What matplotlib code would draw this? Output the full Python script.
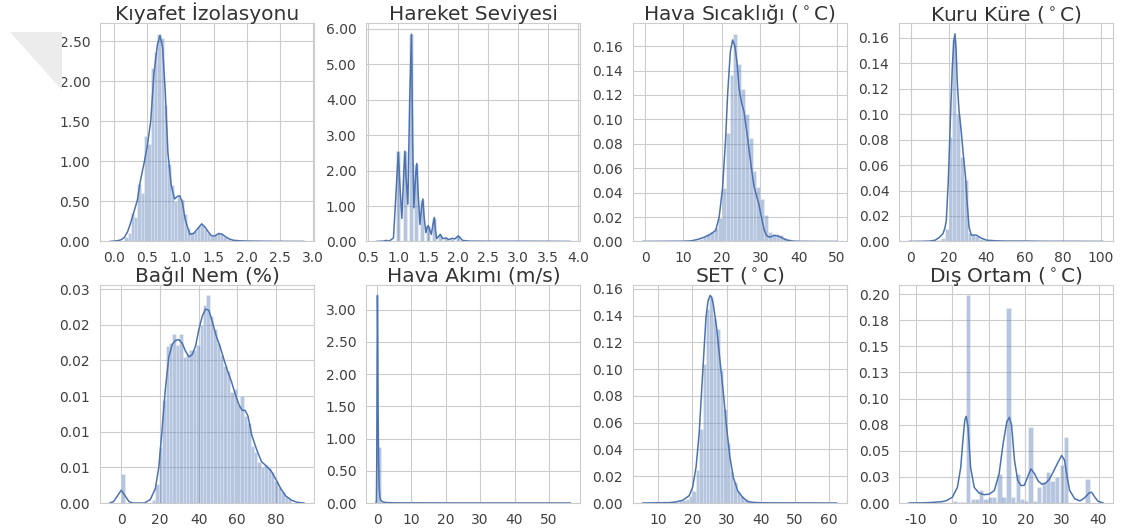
import numpy as np
import matplotlib
matplotlib.use("Agg")
import matplotlib.pyplot as plt
from matplotlib.ticker import MultipleLocator, FormatStrFormatter
from matplotlib.patches import Polygon
import seaborn as sns

sns.set_style("whitegrid")
plt.rcParams['font.family'] = ['DejaVu Sans']
plt.rcParams['axes.unicode_minus'] = False

# --- Kıyafet İzolasyonu (clo) ---
clo_bin_start = 0.15
clo_bin_width = 0.05
clo_heights = [0.06, 0.10, 0.36, 0.30, 0.72, 0.61, 1.32, 1.21, 2.17, 2.36,
               2.59, 2.54, 1.70, 0.97, 0.70, 0.51, 0.55, 0.53, 0.34, 0.17,
               0.12, 0.13, 0.19, 0.21, 0.15, 0.10, 0.07, 0.08, 0.10, 0.09,
               0.06, 0.03, 0.02, 0.01, 0.01, 0.01, 0.005, 0.005, 0.004, 0.004,
               0.003, 0.003, 0.002, 0.002, 0.002, 0.002, 0.002, 0.002, 0.002, 0.002,
               0.002, 0.002, 0.001, 0.001]
clo_kde_x = [-0.07, 0.0, 0.05, 0.1, 0.15, 0.2, 0.25, 0.3, 0.35, 0.39, 0.45, 0.5,
             0.55, 0.6, 0.65, 0.69, 0.73, 0.77, 0.81, 0.86, 0.91, 0.95, 0.99, 1.03,
             1.07, 1.14, 1.2, 1.26, 1.32, 1.37, 1.42, 1.47, 1.52, 1.58, 1.63, 1.68,
             1.74, 1.8, 1.9, 2.0, 2.2, 2.5, 2.87]
clo_kde_y = [0.0, 0.005, 0.01, 0.02, 0.05, 0.12, 0.24, 0.38, 0.52, 0.74, 0.98, 1.2,
             1.5, 2.1, 2.45, 2.57, 2.42, 1.86, 1.11, 0.70, 0.53, 0.56, 0.57, 0.48,
             0.28, 0.09, 0.1, 0.16, 0.22, 0.18, 0.12, 0.07, 0.07, 0.1, 0.09, 0.06,
             0.03, 0.015, 0.008, 0.005, 0.003, 0.001, 0.0]

# --- Hareket Seviyesi (met) ---
met_bar_width = 0.065
met_centers = [0.72, 1.0, 1.11, 1.21, 1.30, 1.40, 1.49, 1.60, 1.70, 1.80,
               1.90, 2.0, 2.1, 2.3, 2.6, 3.0, 3.4, 3.8]
met_heights = [0.01, 2.54, 2.55, 5.86, 2.18, 1.17, 0.43, 0.65, 0.18, 0.09,
               0.08, 0.15, 0.02, 0.01, 0.01, 0.005, 0.005, 0.005]
met_kde_x = [0.63, 0.75, 0.8, 0.85, 0.92, 0.96, 1.0, 1.03, 1.06, 1.09, 1.11, 1.13,
             1.16, 1.19, 1.22, 1.24, 1.26, 1.29, 1.31, 1.33, 1.36, 1.39, 1.41, 1.43,
             1.46, 1.48, 1.5, 1.53, 1.55, 1.58, 1.6, 1.62, 1.64, 1.7, 1.74, 1.8,
             1.84, 1.9, 1.94, 2.0, 2.07, 2.18, 2.5, 3.0, 3.5, 3.87]
met_kde_y = [0.0, 0.01, 0.03, 0.01, 0.1, 1.3, 2.52, 1.5, 0.65, 1.9, 2.55, 1.8,
             1.05, 4.0, 5.85, 2.8, 0.95, 1.9, 2.2, 1.4, 0.48, 1.0, 1.2, 0.7,
             0.25, 0.4, 0.45, 0.3, 0.2, 0.5, 0.68, 0.3, 0.08, 0.2, 0.08, 0.1,
             0.05, 0.09, 0.07, 0.16, 0.03, 0.01, 0.005, 0.005, 0.003, 0.0]

# --- Hava Sıcaklığı ---
ta_bin_start = 0.0
ta_bin_width = 1.0
ta_heights = [0.0002, 0, 0, 0, 0, 0, 0, 0, 0, 0.0002,
              0.0002, 0.0003, 0.0005, 0.001, 0.002, 0.004, 0.006, 0.008, 0.011, 0.019,
              0.044, 0.089, 0.136, 0.170, 0.145, 0.125, 0.104, 0.085, 0.058, 0.045,
              0.035, 0.022, 0.008, 0.006, 0.006, 0.005, 0.003, 0.002, 0.001, 0.0005,
              0.0002, 0.0002, 0.0002, 0.0002, 0.0002, 0.0002, 0.0002, 0.0002, 0.0002, 0.0002]
ta_kde_x = [-0.7, 5, 10, 12, 13.5, 15, 16.5, 17.5, 18.4, 19.3, 20.2, 21.0, 21.5,
            22.2, 22.8, 23.4, 24.0, 24.5, 25.2, 25.8, 26.5, 27.1, 27.8, 28.4, 29.0,
            29.7, 30.3, 31.0, 31.6, 32.3, 33.0, 33.6, 34.5, 35.4, 36.3, 37.1, 38.5,
            40, 45, 50]
ta_kde_y = [0, 0.0001, 0.0002, 0.0005, 0.0015, 0.003, 0.005, 0.007, 0.009, 0.02,
            0.044, 0.085, 0.12, 0.155, 0.165, 0.16, 0.145, 0.125, 0.113, 0.106,
            0.09, 0.075, 0.058, 0.045, 0.038, 0.03, 0.02, 0.01, 0.005, 0.0036,
            0.004, 0.005, 0.0045, 0.0035, 0.002, 0.001, 0.0003, 0.0001, 0.0, 0.0]

# --- Kuru Küre ---
tg_bin_start = 0.0
tg_bin_width = 2.0
tg_heights = [0.0002, 0, 0, 0, 0, 0, 0.0005, 0.001, 0.003, 0.010,
              0.082, 0.158, 0.100, 0.066, 0.048, 0.007, 0.005, 0.004, 0.002, 0.001,
              0.0005, 0.0003, 0.0003, 0.0003, 0.0003, 0.0003, 0.0003, 0.0003, 0.0003, 0.0003,
              0.0001, 0.0001, 0.0001, 0.0001, 0.0001, 0.0001, 0.0001, 0.0001, 0.0001, 0.0001,
              0.0001, 0.0001, 0.0001, 0.0001, 0.0001, 0.0001, 0.0001, 0.0001, 0.0001, 0.0001]
tg_kde_x = [-0.9, 5, 10, 13, 15, 17, 18, 18.8, 19.8, 20.6, 21.3, 22.0, 22.8, 23.4,
            24.0, 24.6, 25.5, 26.7, 27.9, 29.0, 29.7, 30.8, 32.0, 33.5, 34.6, 37.3,
            40, 45, 50, 60, 70, 80, 101.4]
tg_kde_y = [0, 0.0001, 0.0003, 0.001, 0.003, 0.006, 0.01, 0.016, 0.045, 0.079,
            0.11, 0.137, 0.158, 0.163, 0.15, 0.125, 0.103, 0.086, 0.066, 0.05,
            0.032, 0.011, 0.005, 0.005, 0.005, 0.0026, 0.001, 0.0005, 0.0003, 0.0003,
            0.0001, 0.0001, 0.0]

# --- Bağıl Nem ---
rh_bin_start = 0.0
rh_bin_width = 1.76
rh_heights = [0.0040, 0, 0, 0, 0, 0, 0, 0, 0, 0.0004,
              0.0026, 0.0079, 0.0144, 0.0220, 0.0225, 0.0237, 0.0221, 0.0237, 0.0205, 0.0209,
              0.0214, 0.0214, 0.0221, 0.0250, 0.0278, 0.0291, 0.0262, 0.0244, 0.0225, 0.0207,
              0.0192, 0.0185, 0.0155, 0.0160, 0.0137, 0.0150, 0.0122, 0.0112, 0.0080, 0.0072,
              0.0058, 0.0050, 0.0053, 0.0049, 0.0043, 0.0031, 0.0022, 0.0015, 0.0009, 0.0005]
rh_kde_x = [-6, -4, -2, 0, 2, 4, 6, 12, 15, 17.6, 19.4, 21, 22.8, 24.6, 26.3, 28,
            29.8, 31.5, 33.2, 35, 36.7, 38.4, 40.1, 41.9, 43.6, 45.3, 47, 49, 51,
            53, 55, 57, 59, 61, 62.5, 64, 65.5, 67.5, 70, 72.5, 75, 77.5, 80, 82.5,
            85, 88, 91, 94.6]
rh_kde_y = [0, 0.0002, 0.001, 0.0018, 0.001, 0.0002, 0, 0, 0.0005, 0.002, 0.005,
            0.01, 0.016, 0.0205, 0.0222, 0.0228, 0.0229, 0.0224, 0.0213, 0.0205,
            0.0208, 0.022, 0.0243, 0.0262, 0.0272, 0.027, 0.0255, 0.0235, 0.022,
            0.0202, 0.0185, 0.017, 0.0152, 0.0137, 0.013, 0.013, 0.0122, 0.0095,
            0.0075, 0.0058, 0.0052, 0.0045, 0.0033, 0.002, 0.001, 0.0004, 0.0001, 0]

# --- Hava Akımı ---
va_bin_start = 0.0
va_bin_width = 1.125
va_heights = [0.87, 0.006, 0.002, 0.001, 0.0005, 0.0005, 0.0003, 0.0003, 0.0002, 0.0002] + [0.0001] * 40
va_kde_x = [-0.3, -0.2, -0.1, 0.0, 0.1, 0.2, 0.3, 0.45, 0.6, 0.8, 1.0, 1.5, 2.5,
            5, 10, 20, 30, 40, 56.3]
va_kde_y = [0, 0.05, 0.6, 2.2, 3.22, 2.6, 1.4, 0.6, 0.25, 0.1, 0.05, 0.02, 0.008,
            0.003, 0.002, 0.001, 0.0005, 0.0003, 0]

# --- SET ---
set_bin_start = 7.0
set_bin_width = 1.0
set_heights = [0.0002, 0.0002, 0.0002, 0.0002, 0.0002, 0.0002, 0.0003, 0.0005, 0.0008, 0.0012,
               0.002, 0.003, 0.0055, 0.009, 0.025, 0.055, 0.104, 0.145, 0.154, 0.138,
               0.130, 0.099, 0.070, 0.045, 0.024, 0.0155, 0.009, 0.0055, 0.003, 0.0015,
               0.0008] + [0.0002] * 24
set_kde_x = [5.4, 10, 13.2, 15.2, 17.1, 19.1, 20.1, 21.1, 22.0, 23.0, 24.0, 24.6,
             25.2, 25.6, 26.1, 27.1, 28.1, 29.1, 30.0, 31.0, 32.0, 33.3, 34.8, 36.2,
             37.7, 40, 45, 50, 62.3]
set_kde_y = [0, 0.0002, 0.0003, 0.0008, 0.002, 0.0055, 0.012, 0.027, 0.052, 0.096,
             0.139, 0.151, 0.155, 0.154, 0.149, 0.131, 0.106, 0.0815, 0.057, 0.034,
             0.019, 0.009, 0.004, 0.0012, 0.0005, 0.0002, 0.0001, 0.0001, 0]

# --- Dış Ortam ---
out_bar_width = 1.15
out_centers = [-10.5, 0.7, 2.0, 3.1, 4.3, 5.6, 6.7, 7.9, 9.1, 10.3, 11.4, 12.9, 14.0,
               15.35, 16.6, 17.9, 19.1, 20.2, 21.4, 22.6, 23.8, 25.0, 26.2, 27.4,
               28.7, 30.0, 31.2, 37.0]
out_heights = [0.0005, 0.0016, 0.001, 0.001, 0.1987, 0.004, 0.004, 0.012, 0.004,
               0.0055, 0.0055, 0.028, 0.0055, 0.1865, 0.0055, 0.028, 0.004, 0.0016,
               0.0728, 0.002, 0.0157, 0.020, 0.0295, 0.0215, 0.0247, 0.036, 0.063, 0.023]
out_kde_x = [-11.9, -8, -5.5, -3, -1.8, 0, 1.4, 2.3, 2.9, 3.4, 3.8, 4.3, 5.0, 6.0,
             7.3, 8.7, 10.1, 11.5, 12.8, 13.9, 14.9, 15.6, 16.2, 17.0, 17.9, 18.8,
             19.7, 20.5, 21.5, 22.5, 23.5, 24.5, 25.5, 26.5, 27.5, 28.7, 29.9, 30.7,
             31.4, 32.1, 33.5, 34.9, 36.2, 37.4, 38.1, 39.0, 39.9, 41.3]
out_kde_y = [0, 0.0002, 0.0006, 0.0012, 0.002, 0.0055, 0.015, 0.034, 0.06, 0.079,
             0.083, 0.073, 0.034, 0.015, 0.0095, 0.008, 0.0085, 0.012, 0.028, 0.057,
             0.0776, 0.082, 0.075, 0.041, 0.0215, 0.0167, 0.017, 0.024, 0.0327, 0.028,
             0.021, 0.018, 0.019, 0.0225, 0.029, 0.0375, 0.0455, 0.041, 0.025, 0.012,
             0.004, 0.002, 0.005, 0.0096, 0.0103, 0.0055, 0.0016, 0]

titles = ['Kıyafet İzolasyonu', 'Hareket Seviyesi', 'Hava Sıcaklığı ($^\\circ$C)',
          'Kuru Küre ($^\\circ$C)', 'Bağıl Nem (%)', 'Hava Akımı (m/s)',
          'SET ($^\\circ$C)', 'Dış Ortam ($^\\circ$C)']


def bin_centers(start, width, heights):
    return start + width * (np.arange(len(heights)) + 0.5)


panels = [
    (bin_centers(clo_bin_start, clo_bin_width, clo_heights), clo_heights, clo_bin_width, clo_kde_x, clo_kde_y, 0.5, 0.5),
    (met_centers, met_heights, met_bar_width, met_kde_x, met_kde_y, 0.5, 1.0),
    (bin_centers(ta_bin_start, ta_bin_width, ta_heights), ta_heights, ta_bin_width, ta_kde_x, ta_kde_y, 10, 0.02),
    (bin_centers(tg_bin_start, tg_bin_width, tg_heights), tg_heights, tg_bin_width, tg_kde_x, tg_kde_y, 20, 0.02),
    (bin_centers(rh_bin_start, rh_bin_width, rh_heights), rh_heights, rh_bin_width, rh_kde_x, rh_kde_y, 20, 0.005),
    (bin_centers(va_bin_start, va_bin_width, va_heights), va_heights, va_bin_width, va_kde_x, va_kde_y, 10, 0.5),
    (bin_centers(set_bin_start, set_bin_width, set_heights), set_heights, set_bin_width, set_kde_x, set_kde_y, 10, 0.02),
    (out_centers, out_heights, out_bar_width, out_kde_x, out_kde_y, 10, 0.025),
]

blue = '#4c72b0'

fig, axes = plt.subplots(2, 4, figsize=(11.22, 5.28), dpi=100)
fig.subplots_adjust(left=0.0891, right=0.992, top=0.9555, bottom=0.0473,
                    wspace=0.245, hspace=0.2)

for ax, title, (cx, h, w, kx, ky, xstep, ystep) in zip(axes.flat, titles, panels):
    ax.bar(cx, h, width=w, color=blue, alpha=0.4, edgecolor='white', linewidth=0.4)
    ax.plot(kx, ky, color=blue, lw=1.1)
    ax.xaxis.set_major_locator(MultipleLocator(xstep))
    ax.yaxis.set_major_locator(MultipleLocator(ystep))
    ax.yaxis.set_major_formatter(FormatStrFormatter('%.2f'))
    ax.tick_params(labelsize=10, colors='.25')
    ax.set_title(title, fontsize=14.5, pad=2.5, color='.2')

# light folded corner in the top left
corner = Polygon([(10 / 1122, 1 - 32 / 528), (62 / 1122, 1 - 32 / 528), (62 / 1122, 1 - 90 / 528)],
                 closed=True, transform=fig.transFigure, facecolor='#ececec', edgecolor='none')
fig.patches.append(corner)

fig.savefig('out.png', dpi=100)
